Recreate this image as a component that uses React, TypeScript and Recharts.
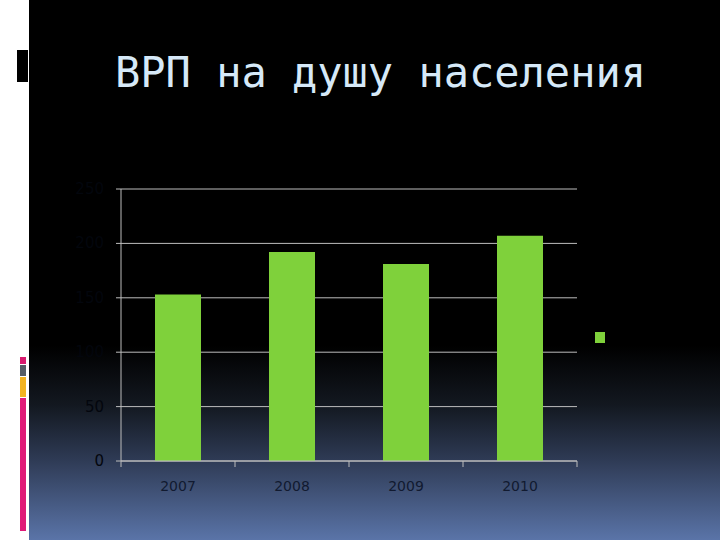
import React from "react";
import { BarChart, Bar, XAxis, YAxis, CartesianGrid, Legend } from "recharts";

const years = ["2007", "2008", "2009", "2010"];
const grpPerCapita = [153, 192, 181, 207];
const yTicks = [0, 50, 100, 150, 200, 250];

const data = years.map((y, i) => ({ year: y, value: grpPerCapita[i] }));

const BAR = "#7fd13b";
const GRID = "#bdbdbd";
const XLABEL = "#111a30";
const YLABEL = "#03060d";

const XTick = (props: any) => {
  const { x, y, payload, index, visibleTicksCount } = props;
  const half = 57;
  const last = index === (visibleTicksCount ?? years.length) - 1;
  return (
    <g>
      <line x1={x - half} x2={x - half} y1={y - 8} y2={y - 2} stroke={GRID} strokeWidth={1} />
      {last && <line x1={x + half} x2={x + half} y1={y - 8} y2={y - 2} stroke={GRID} strokeWidth={1} />}
      <text x={x} y={y + 22} textAnchor="middle" fill={XLABEL} fontFamily="'DejaVu Sans', sans-serif" fontSize={14}>
        {payload.value}
      </text>
    </g>
  );
};

const YTick = (props: any) => {
  const { x, y, payload } = props;
  return (
    <text
      x={x}
      y={y}
      dy={5}
      textAnchor="end"
      fill={YLABEL}
      stroke="none"
      fontFamily="'DejaVu Sans', sans-serif"
      fontSize={15}
    >
      {payload.value}
    </text>
  );
};

const LegendBox = () => (
  <div style={{ width: 10, height: 11, background: BAR }} />
);

export default function App() {
  return (
    <div
      style={{
        position: "fixed",
        left: 0,
        top: 0,
        width: 720,
        height: 540,
        overflow: "hidden",
        background:
          "linear-gradient(to bottom, #000 0%, #000 64%, #131820 75%, #2e3a54 85%, #5a74a8 100%)",
      }}
    >
      {/* left white strip with decorations */}
      <div style={{ position: "absolute", left: 0, top: 0, width: 29, height: 540, background: "#fff" }} />
      <div style={{ position: "absolute", left: 17, top: 50, width: 11, height: 32, background: "#000" }} />
      <div style={{ position: "absolute", left: 20, top: 357, width: 6, height: 7, background: "#d81b6f" }} />
      <div style={{ position: "absolute", left: 20, top: 365, width: 6, height: 11, background: "#555d66" }} />
      <div style={{ position: "absolute", left: 20, top: 377, width: 6, height: 20, background: "#f2b320" }} />
      <div style={{ position: "absolute", left: 20, top: 398, width: 6, height: 133, background: "#e01a78" }} />

      <div
        style={{
          position: "absolute",
          left: 115,
          top: 48,
          fontFamily: "'DejaVu Sans Mono', monospace",
          fontSize: 42,
          lineHeight: "50px",
          color: "#d6e9f8",
          whiteSpace: "nowrap",
        }}
      >
        ВРП на душу населения
      </div>

      <div style={{ position: "absolute", left: 0, top: 0 }}>
        <BarChart
          width={720}
          height={540}
          data={data}
          margin={{ top: 189, right: 143, bottom: 38, left: 0 }}
          barCategoryGap="30%"
        >
          <CartesianGrid horizontal vertical={false} stroke={GRID} strokeWidth={1} />
          <XAxis
            dataKey="year"
            stroke={GRID}
            tickLine={false}
            height={30}
            tick={<XTick />}
            interval={0}
          />
          <YAxis
            width={121}
            domain={[0, 250]}
            ticks={yTicks}
            interval={0}
            stroke={GRID}
            tickSize={5}
            tickMargin={12}
            tick={<YTick />}
          />
          <Legend
            content={<LegendBox />}
            wrapperStyle={{ position: "absolute", left: 595, top: 332, width: 10, height: 11 }}
          />
          <Bar dataKey="value" fill={BAR} barSize={46} isAnimationActive={false} />
        </BarChart>
      </div>
    </div>
  );
}
